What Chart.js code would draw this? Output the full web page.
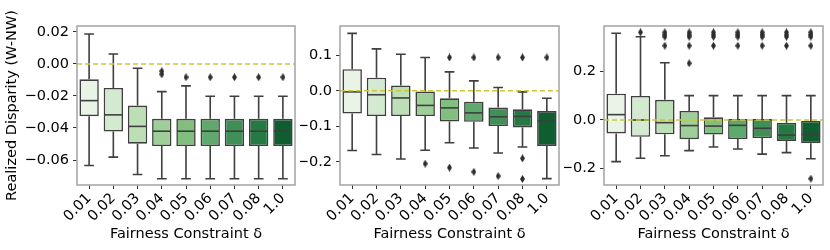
<!DOCTYPE html>
<html><head><meta charset="utf-8">
<script src="https://cdn.jsdelivr.net/npm/chart.js@4"></script>
<style>
body{margin:0;background:#fff;width:830px;height:250px;position:relative;overflow:hidden}
canvas{position:absolute;top:0}
</style></head>
<body>
<canvas id="c1" width="300" height="250" style="left:0px;width:300px;height:250px"></canvas>
<canvas id="c2" width="264" height="250" style="left:300px;width:264px;height:250px"></canvas>
<canvas id="c3" width="264" height="250" style="left:564px;width:264px;height:250px"></canvas>
<script>
const categories = ['0.01','0.02','0.03','0.04','0.05','0.06','0.07','0.08','1.0'];
const boxColors = ['#e9f4e6','#d4ead0','#bcdfb6','#9fcf99','#80bf7d','#5ea96b','#3f8f57','#257a43','#0f5e30'];

// Panel 1
const p1Low = [-0.0634,-0.0582,-0.069,-0.0717,-0.0717,-0.0717,-0.0717,-0.0717,-0.0717];
const p1Q1  = [-0.0326,-0.0422,-0.0498,-0.0513,-0.0513,-0.0513,-0.0513,-0.0513,-0.0513];
const p1Med = [-0.0229,-0.0318,-0.039,-0.042,-0.042,-0.042,-0.042,-0.042,-0.042];
const p1Q3  = [-0.0096,-0.015,-0.026,-0.0343,-0.0343,-0.0343,-0.0343,-0.0343,-0.0343];
const p1High= [0.0187,0.0062,-0.0027,-0.0173,-0.0137,-0.0202,-0.0202,-0.0202,-0.0202];
const p1Out = [[],[],[],[-0.0045,-0.0065],[-0.0083],[-0.0083],[-0.0083],[-0.0083],[-0.0083]];
const p1Ticks = [0.02,0.00,-0.02,-0.04,-0.06];
const p1Labels = ['0.02','0.00','\u22120.02','\u22120.04','\u22120.06'];
const p1Range = [-0.0756,0.0237];

// Panel 2
const p2Low = [-0.168,-0.179,-0.192,-0.167,-0.146,-0.161,-0.175,-0.158,-0.247];
const p2Q1  = [-0.064,-0.071,-0.071,-0.071,-0.086,-0.087,-0.099,-0.103,-0.155];
const p2Med = [-0.003,-0.011,-0.020,-0.041,-0.048,-0.062,-0.073,-0.072,-0.085];
const p2Q3  = [0.061,0.037,0.015,-0.002,-0.021,-0.031,-0.047,-0.052,-0.057];
const p2High= [0.1617,0.118,0.103,0.094,0.0535,0.028,0.0096,-0.003,-0.021];
const p2Out = [[],[],[],[-0.205],[0.094,-0.216],[0.094,-0.228],[0.094,-0.240],[0.094,-0.19,-0.248],[0.094]];
const p2Ticks = [0.1,0.0,-0.1,-0.2];
const p2Labels = ['0.1','0.0','\u22120.1','\u22120.2'];
const p2Range = [-0.265,0.1825];

// Panel 3
const p3Low = [-0.171,-0.157,-0.147,-0.126,-0.111,-0.119,-0.14,-0.134,-0.159];
const p3Q1  = [-0.055,-0.069,-0.059,-0.079,-0.06,-0.078,-0.074,-0.086,-0.096];
const p3Med = [0.022,0.0,-0.011,-0.023,-0.025,-0.022,-0.034,-0.062,-0.059];
const p3Q3  = [0.108,0.099,0.083,0.037,0.011,0.004,0.004,-0.011,-0.004];
const p3High= [0.356,0.342,0.235,0.1,0.1,0.1,0.1,0.1,0.1];
const p3Out = [[],[0.36],[0.36,0.35,0.342,0.305],[0.36,0.35,0.342,0.305,0.233],[0.36,0.35,0.342,0.305],[0.36,0.35,0.342,0.305],[0.36,0.35,0.342,0.305],[0.36,0.35,0.342,0.305],[0.36,0.35,0.342,0.305,-0.241]];
const p3Ticks = [0.2,0.0,-0.2];
const p3Labels = ['0.2','0.0','\u22120.2'];
const p3Range = [-0.267,0.386];

const zeroLine = 0;

Chart.defaults.font.family = 'DejaVu Sans';
Chart.defaults.font.size = 14.5;
Chart.defaults.color = '#000';

const LINE = '#3f3f3f';

// thin diamond marker
const diamond = document.createElement('canvas');
diamond.width = 5; diamond.height = 8;
(function(){const g=diamond.getContext('2d');g.fillStyle='#2e2e2e';g.beginPath();g.moveTo(2.5,0);g.lineTo(5,4);g.lineTo(2.5,8);g.lineTo(0,4);g.closePath();g.fill();})();

const boxPlugin = {
  id: 'boxplot',
  beforeDatasetsDraw(chart, args, opts) {
    const ctx = chart.ctx, ys = chart.scales.y, meta = chart.getDatasetMeta(0);
    ctx.save();
    ctx.strokeStyle = LINE; ctx.lineWidth = 1.6;
    meta.data.forEach((bar, i) => {
      const x = bar.x, hw = bar.width / 4;
      const yHi = ys.getPixelForValue(opts.high[i]), yLo = ys.getPixelForValue(opts.low[i]);
      const yQ3 = ys.getPixelForValue(opts.q3[i]), yQ1 = ys.getPixelForValue(opts.q1[i]);
      ctx.beginPath();
      ctx.moveTo(x, yHi); ctx.lineTo(x, yQ3);
      ctx.moveTo(x, yQ1); ctx.lineTo(x, yLo);
      ctx.moveTo(x - hw, yHi); ctx.lineTo(x + hw, yHi);
      ctx.moveTo(x - hw, yLo); ctx.lineTo(x + hw, yLo);
      ctx.stroke();
    });
    ctx.restore();
  },
  afterDatasetsDraw(chart, args, opts) {
    const ctx = chart.ctx, ys = chart.scales.y, meta = chart.getDatasetMeta(0), ca = chart.chartArea;
    ctx.save();
    ctx.strokeStyle = LINE; ctx.lineWidth = 1.6;
    meta.data.forEach((bar, i) => {
      const y = ys.getPixelForValue(opts.med[i]);
      const hw = bar.width / 2 - 0.8;
      ctx.beginPath(); ctx.moveTo(bar.x - hw, y); ctx.lineTo(bar.x + hw, y); ctx.stroke();
    });
    const y0 = ys.getPixelForValue(zeroLine);
    ctx.strokeStyle = '#c9c93a'; ctx.lineWidth = 1.5; ctx.setLineDash([5, 3]);
    ctx.beginPath(); ctx.moveTo(ca.left, y0); ctx.lineTo(ca.right, y0); ctx.stroke();
    ctx.setLineDash([]);
    ctx.strokeStyle = '#a3a3a3'; ctx.lineWidth = 1.5;
    ctx.strokeRect(ca.left, ca.top, ca.right - ca.left, ca.bottom - ca.top);
    ctx.restore();
  }
};

function makeChart(id, low, q1, med, q3, high, out, ticks, labels, range, yWidth, yTitle) {
  const pts = [];
  out.forEach((arr, i) => arr.forEach(v => pts.push({x: categories[i], y: v})));
  return new Chart(document.getElementById(id), {
    type: 'bar',
    data: {
      labels: categories,
      datasets: [
        {
          type: 'bar',
          data: q1.map((v, i) => [v, q3[i]]),
          backgroundColor: boxColors,
          borderColor: LINE,
          borderWidth: 1.6,
          borderSkipped: false,
          barPercentage: 0.8,
          categoryPercentage: 1.0,
          order: 2
        },
        {
          type: 'line',
          data: pts,
          showLine: false,
          pointStyle: diamond,
          pointRadius: 4,
          order: 1
        }
      ]
    },
    options: {
      responsive: false,
      animation: false,
      events: [],
      layout: {padding: {left: 0, right: 4, top: 26, bottom: 0}},
      plugins: {
        legend: {display: false},
        tooltip: {enabled: false},
        boxplot: {low, q1, med, q3, high}
      },
      scales: {
        x: {
          type: 'category',
          offset: true,
          grid: {display: true, offset: false, drawOnChartArea: false, drawTicks: true, tickLength: 4, color: '#333', lineWidth: 1},
          border: {display: false},
          ticks: {minRotation: 45, maxRotation: 45, padding: 1, color: '#000', autoSkip: false},
          title: {display: true, text: 'Fairness Constraint \u03b4', color: '#000', padding: {top: 0, bottom: 7}},
          afterFit: s => { s.height = 65; }
        },
        y: {
          type: 'linear',
          min: range[0], max: range[1],
          grid: {display: true, drawOnChartArea: false, drawTicks: true, tickLength: 4, color: '#333', lineWidth: 1},
          border: {display: false},
          afterBuildTicks: s => { s.ticks = ticks.map(v => ({value: v})); },
          ticks: {
            padding: 4, color: '#000',
            callback: (v) => { const k = ticks.findIndex(t => Math.abs(t - v) < 1e-9); return k >= 0 ? labels[k] : ''; }
          },
          title: {display: !!yTitle, text: yTitle || '', color: '#000', padding: {top: 4, bottom: 0}},
          afterFit: s => { s.width = yWidth; }
        }
      }
    },
    plugins: [boxPlugin]
  });
}

makeChart('c1', p1Low, p1Q1, p1Med, p1Q3, p1High, p1Out, p1Ticks, p1Labels, p1Range, 77, 'Realized Disparity (W-NW)');
makeChart('c2', p2Low, p2Q1, p2Med, p2Q3, p2High, p2Out, p2Ticks, p2Labels, p2Range, 40, null);
makeChart('c3', p3Low, p3Q1, p3Med, p3Q3, p3High, p3Out, p3Ticks, p3Labels, p3Range, 40, null);
</script>
</body></html>
